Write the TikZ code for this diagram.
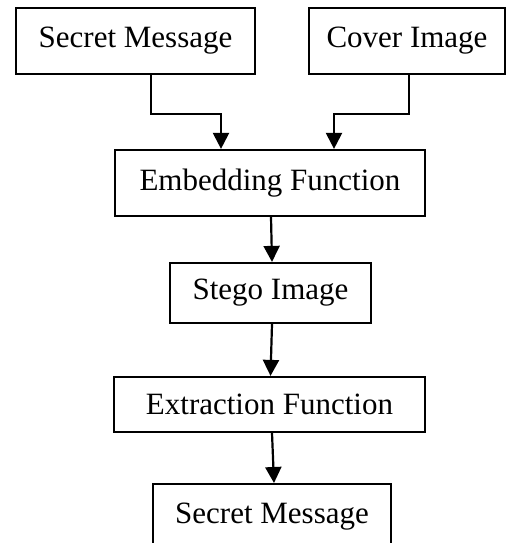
\documentclass[tikz,border=0pt]{standalone}
\usepackage{fontspec}
\setmainfont{Liberation Serif}
\usetikzlibrary{arrows.meta}
\begin{document}
\begin{tikzpicture}[x=1pt,y=-1pt,
  box/.style={draw,line width=2.2pt,inner sep=0pt,
    font=\fontsize{31}{36}\selectfont},
  flow/.style={line width=2.2pt,-{Triangle[length=16pt,width=16pt]}}]
  \useasboundingbox (0,0) rectangle (507,545);
  \clip (0,0) rectangle (507,542);
  \node[box,minimum width=239pt,minimum height=66pt] (secret) at (135.5,41) {Secret Message};
  \node[box,minimum width=196pt,minimum height=66pt] (cover) at (407,41) {Cover Image};
  \node[box,minimum width=310pt,minimum height=66pt] (embed) at (270,183) {Embedding Function};
  \node[box,minimum width=201pt,minimum height=60pt] (stego) at (270.5,293) {Stego Image};
  \node[box,minimum width=311pt,minimum height=55pt] (extract) at (269.5,404.5) {Extraction Function};
  \node[box,minimum width=238pt,minimum height=120pt,anchor=north] (output) at (272,483) {};
  \node[font=\fontsize{31}{36}\selectfont] (outtext) at (272,517) {Secret Message};
  \draw[flow] ([xshift=15.5pt]secret.south) -- ++(0,39) -| ([xshift=-49pt]embed.north);
  \draw[flow] ([xshift=2pt]cover.south) -- ++(0,39) -| ([xshift=64pt]embed.north);
  \draw[flow] ([xshift=1pt]embed.south) -- ([xshift=1.5pt]stego.north);
  \draw[flow] ([xshift=1.5pt]stego.south) -- ([xshift=1pt]extract.north);
  \draw[flow] ([xshift=2.5pt]extract.south) -- ([xshift=2pt]output.north);
\end{tikzpicture}
\end{document}
